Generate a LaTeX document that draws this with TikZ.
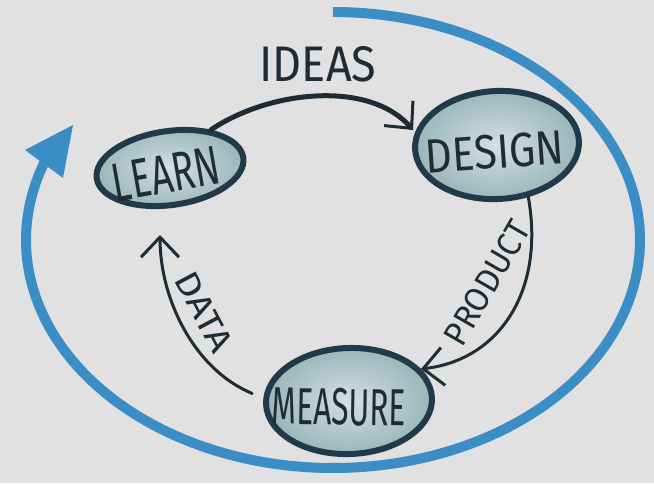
\documentclass[tikz,border=0pt]{standalone}
\usepackage{fontspec}
\setmainfont{Fira Sans}
\usepackage{graphicx}
\usetikzlibrary{arrows.meta,shapes.geometric}

\definecolor{paper}{HTML}{E1E1E1}
\definecolor{loopblue}{HTML}{3B8DC5}
\definecolor{ink}{HTML}{22394A}
\definecolor{pen}{HTML}{1F2C34}
\definecolor{fillin}{HTML}{D3E0E1}
\definecolor{fillout}{HTML}{98B6BA}

\begin{document}
\begin{tikzpicture}[x=1pt,y=-1pt,
  stage/.style={ellipse, draw=ink, line width=6pt, inner color=fillin,
    outer color=fillout, inner sep=0pt},
  stagetext/.style={text=pen, inner sep=0pt},
  flowtext/.style={text=pen, inner sep=0pt, font=\fontsize{34}{34}\selectfont},
  flow/.style={draw=pen, line cap=round,
    -{Straight Barb[length=20pt,width=38pt,line width=3pt]}},
]
% canvas
\fill[paper] (0,0) rectangle (654,483);
\useasboundingbox (0,0) rectangle (654,483);

% the big feedback loop
\draw[loopblue, line width=10pt]
  plot[domain=90:-200, samples=140, smooth]
  ({333+307*cos(\x)},{240-228*sin(\x)});
\fill[loopblue] (73,125) -- (25,150) -- (63,178) -- cycle;

% stages
\node[stage, minimum width=148pt, minimum height=74pt, rotate=8] (learn) at (170,168) {};
\node[stage, minimum width=164pt, minimum height=108pt, rotate=3] (design) at (497,145) {};
\node[stage, minimum width=166pt, minimum height=106pt, rotate=2] (measure) at (349,401) {};

\node[stagetext, rotate=10, font=\fontsize{55}{55}\selectfont] (learnlabel) at (166,174)
  {\scalebox{0.68}[1]{LEARN}};
\node[stagetext, rotate=4, font=\fontsize{48}{48}\selectfont] (designlabel) at (495,152)
  {\scalebox{0.87}[1]{DESIGN}};
\node[stagetext, rotate=-1, font=\fontsize{52}{52}\selectfont] (measurelabel) at (339,407)
  {\scalebox{0.61}[1]{MEASURE}};

% arrow end points that stop short of the ellipses
\coordinate (ideastip) at (413,130);
\coordinate (datatip) at (160,235);

% flows between the stages
\draw[flow, line width=5pt] (learn.35) .. controls (270,90) and (370,80) .. (ideastip);
\draw[flow, line width=3pt] (design.-62) .. controls (545,290) and (500,360) .. (measure.22);
\draw[flow, line width=3pt, shorten <=12pt] (measure.176) .. controls (195,370) and (160,300) .. (datatip);

% flow labels
\node[flowtext, font=\fontsize{50}{50}\selectfont] (ideas) at (318,64) {\scalebox{0.9}[1]{IDEAS}};
\node[flowtext, rotate=60] (product) at (487,283) {\scalebox{0.95}[1]{PRODUCT}};
\node[flowtext, rotate=-62] (data) at (204,312) {\scalebox{1.15}[1]{DATA}};
\end{tikzpicture}
\end{document}
